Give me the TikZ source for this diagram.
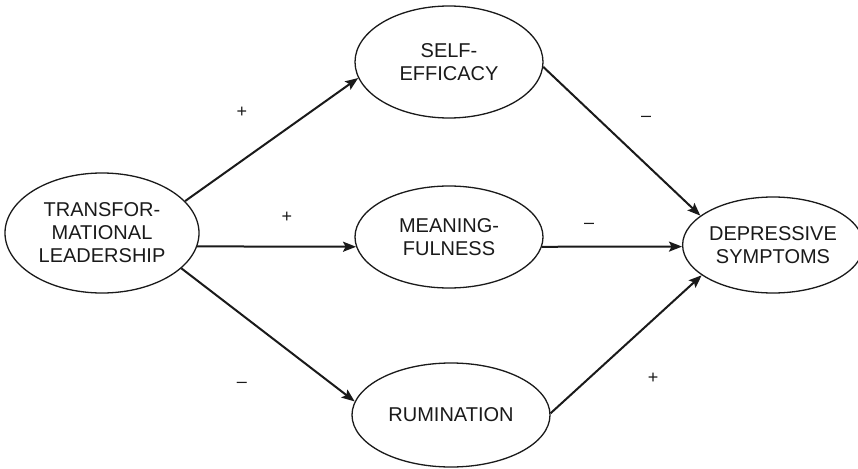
\documentclass[tikz,border=0pt]{standalone}
\usepackage{fontspec}
\setmainfont{Liberation Sans}
\usetikzlibrary{shapes.geometric,arrows.meta}
\definecolor{ink}{HTML}{1A1A1A}
\tikzset{
  oval/.style={ellipse, draw=ink, line width=1.3pt, inner sep=0pt, text=ink,
    align=center, font=\fontsize{20}{23}\selectfont},
  arr/.style={draw=ink, line width=2pt, -{Stealth[length=13pt,width=10pt,inset=2.5pt]}},
  sign/.style={text=ink, inner sep=0pt, font=\fontsize{18}{18}\selectfont}
}
\begin{document}
\begin{tikzpicture}[x=1pt,y=-1pt]
\useasboundingbox[fill=white] (0,0) rectangle (858,468);
\node[oval, minimum width=194pt, minimum height=120pt] (tl) at (102,233) {TRANSFOR-\\MATIONAL\\LEADERSHIP};
\node[oval, minimum width=188pt, minimum height=112pt] (se) at (449,62) {SELF-\\EFFICACY};
\node[oval, minimum width=188pt, minimum height=102pt] (mf) at (449,237) {MEANING-\\FULNESS};
\node[oval, minimum width=198pt, minimum height=104pt] (ru) at (451,415) {RUMINATION};
\node[oval, minimum width=168pt, minimum height=96pt] (dp) at (773,245) {DEPRESSIVE\\SYMPTOMS};

\draw[arr] (tl.21.6) -- (se.190.8);
\draw[arr] (tl.-8.4) -- (mf.186.2);
\draw[arr] (tl.-24.2) -- (ru.172.3);
\draw[arr] (se.-3) -- (dp.158.2);
\draw[arr] (mf.-6.2) -- (dp.181.3);
\draw[arr] (ru.1.7) -- (dp.203.5);

\node[sign] (s1) at (242,112) {+};
\node[sign] (s2) at (287,217) {+};
\node[sign] (s3) at (242,385) {–};
\node[sign] (s4) at (646,119) {–};
\node[sign] (s5) at (589,226) {–};
\node[sign] (s6) at (653,378) {+};
\end{tikzpicture}
\end{document}
